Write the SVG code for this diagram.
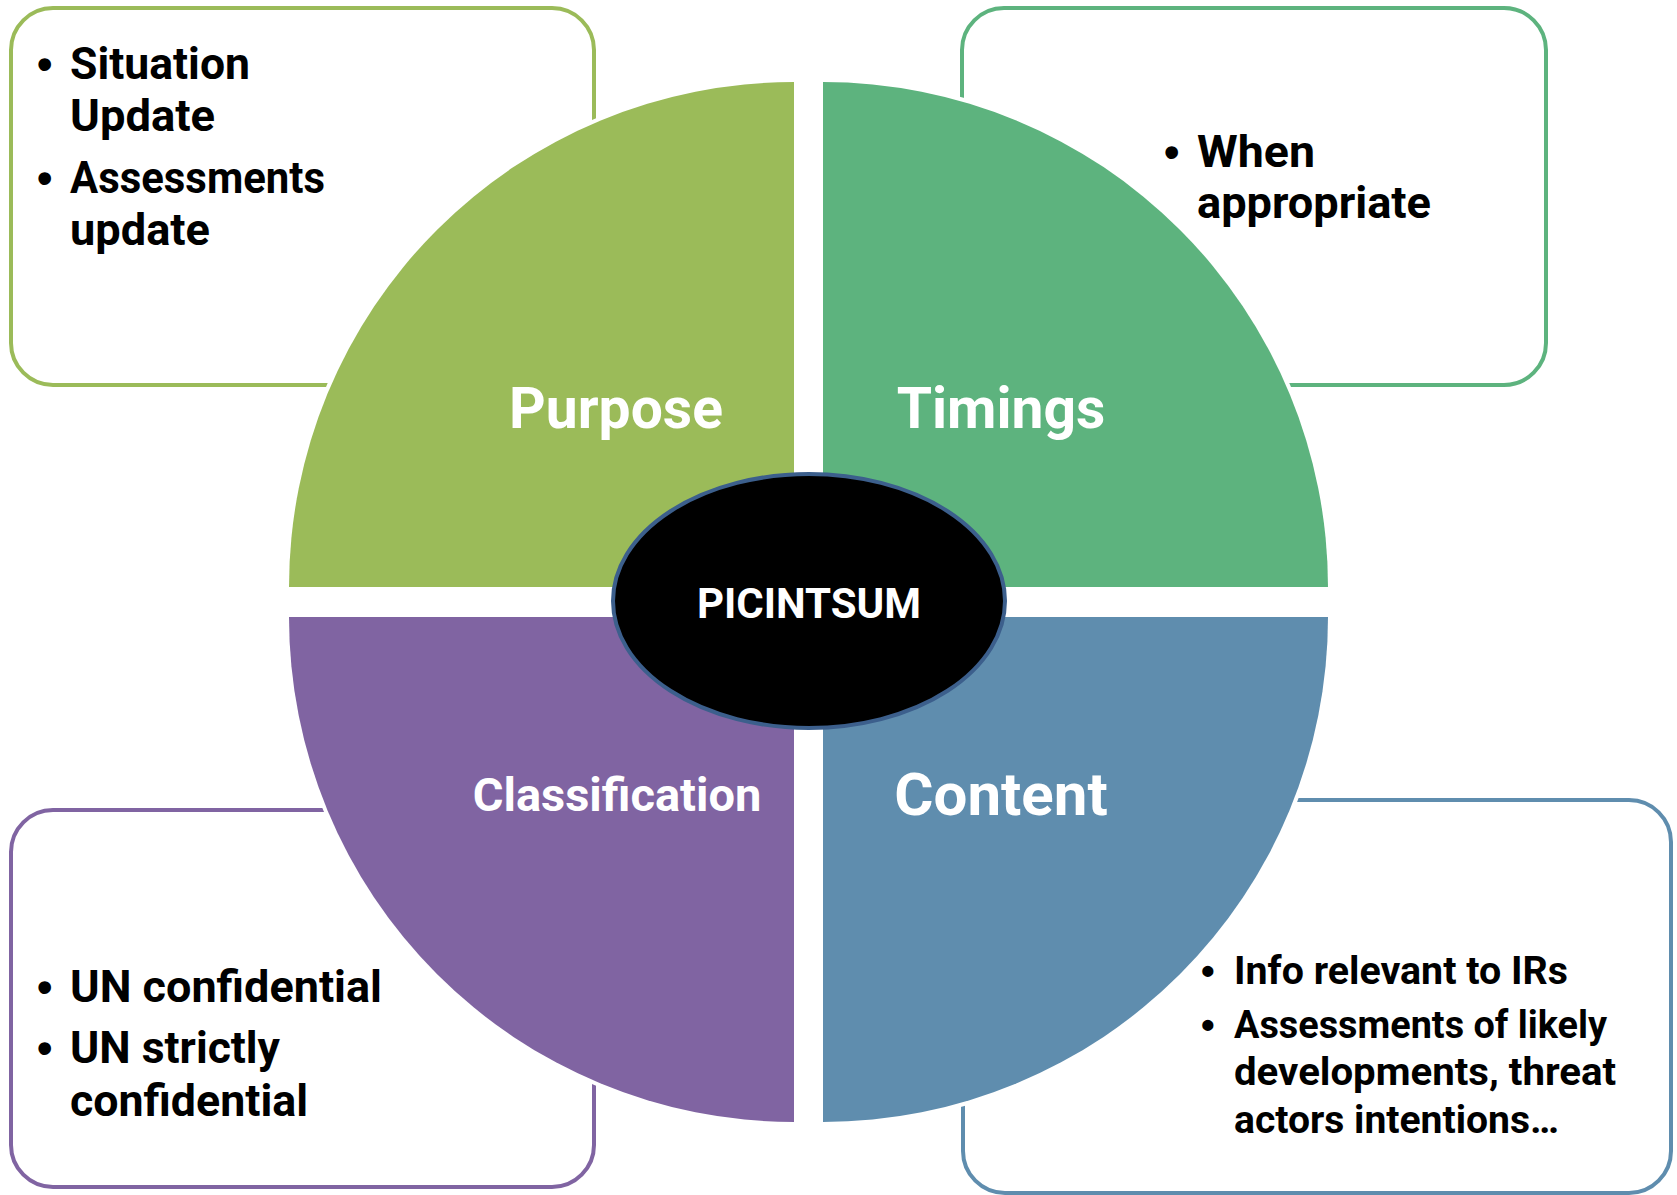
<svg xmlns="http://www.w3.org/2000/svg" width="1677" height="1195" viewBox="0 0 1677 1195">
<style>
.box{fill:#fff;stroke-width:4}
.wedge{stroke:#fff;stroke-width:8;paint-order:stroke}
.bt{font-family:Roboto,"Liberation Sans",sans-serif;font-weight:bold;fill:#000}
.bul{font-family:"Liberation Sans",Arial,sans-serif;font-weight:bold;fill:#000}
.lbl{font-family:Roboto,"Liberation Sans",sans-serif;font-weight:bold;fill:#fff;text-anchor:middle}
</style>
<rect width="1677" height="1195" fill="#fff"/>
<g id="purpose-box"><rect class="box" x="11" y="8" width="583" height="377" rx="42" stroke="#9BBB59"/></g>
<g id="timings-box"><rect class="box" x="962" y="8" width="584" height="377" rx="42" stroke="#5DB37E"/></g>
<g id="classification-box"><rect class="box" x="11" y="810" width="583" height="377" rx="42" stroke="#8064A2"/></g>
<g id="content-box"><rect class="box" x="963" y="800" width="708" height="393" rx="42" stroke="#5F8DAE"/></g>

<g id="purpose"><path class="wedge" d="M794,587 H289 A505,505 0 0 1 794,82 Z" fill="#9BBB59"/>
<text class="lbl" x="616" y="428" font-size="57">Purpose</text></g>
<g id="timings"><path class="wedge" d="M823,587 V82 A505,505 0 0 1 1328,587 Z" fill="#5DB37E"/>
<text class="lbl" x="1001" y="428" font-size="57">Timings</text></g>
<g id="classification"><path class="wedge" d="M794,617 V1122 A505,505 0 0 1 289,617 Z" fill="#8064A2"/>
<text class="lbl" x="617" y="811" font-size="47">Classification</text></g>
<g id="content"><path class="wedge" d="M823,617 H1328 A505,505 0 0 1 823,1122 Z" fill="#5F8DAE"/>
<text class="lbl" x="1001" y="815" font-size="60">Content</text></g>

<g id="picintsum"><ellipse cx="809" cy="601" rx="196" ry="127" fill="#000" stroke="#3C5F8C" stroke-width="4"/>
<text class="lbl" x="809" y="618" font-size="42">PICINTSUM</text></g>

<g id="purpose-text" font-size="44">
<text class="bul" x="37" y="79">•</text><text class="bt" x="70" y="79" textLength="180" lengthAdjust="spacingAndGlyphs">Situation</text>
<text class="bt" x="70" y="131" textLength="145" lengthAdjust="spacingAndGlyphs">Update</text>
<text class="bul" x="37" y="193">•</text><text class="bt" x="70" y="193" textLength="255" lengthAdjust="spacingAndGlyphs">Assessments</text>
<text class="bt" x="70" y="245" textLength="140" lengthAdjust="spacingAndGlyphs">update</text>
</g>
<g id="timings-text" font-size="44">
<text class="bul" x="1164" y="167">•</text><text class="bt" x="1197" y="167" textLength="118" lengthAdjust="spacingAndGlyphs">When</text>
<text class="bt" x="1197" y="218" textLength="234" lengthAdjust="spacingAndGlyphs">appropriate</text>
</g>
<g id="classification-text" font-size="44">
<text class="bul" x="37" y="1002">•</text><text class="bt" x="70" y="1002" textLength="312" lengthAdjust="spacingAndGlyphs">UN confidential</text>
<text class="bul" x="37" y="1063">•</text><text class="bt" x="70" y="1063" textLength="210" lengthAdjust="spacingAndGlyphs">UN strictly</text>
<text class="bt" x="70" y="1116" textLength="238" lengthAdjust="spacingAndGlyphs">confidential</text>
</g>
<g id="content-text" font-size="39">
<text class="bul" x="1201" y="984">•</text><text class="bt" x="1234" y="984" textLength="334" lengthAdjust="spacingAndGlyphs">Info relevant to IRs</text>
<text class="bul" x="1201" y="1038">•</text><text class="bt" x="1234" y="1038" textLength="373" lengthAdjust="spacingAndGlyphs">Assessments of likely</text>
<text class="bt" x="1234" y="1085" textLength="382" lengthAdjust="spacingAndGlyphs">developments, threat</text>
<text class="bt" x="1234" y="1133" textLength="325" lengthAdjust="spacingAndGlyphs">actors intentions…</text>
</g>
</svg>
